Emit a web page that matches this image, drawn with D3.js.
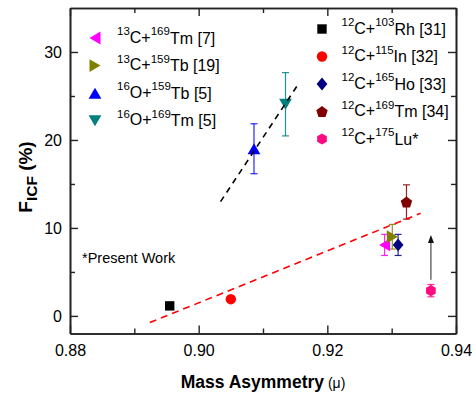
<!DOCTYPE html>
<html><head><meta charset="utf-8">
<script src="https://cdn.jsdelivr.net/npm/d3@7"></script>
<style>body{margin:0;background:#fff} svg{display:block} text{font-family:"Liberation Sans",Arial,sans-serif;fill:#000}</style>
</head><body><svg id="c" width="476" height="397"></svg>
<script>
// ---- data ----
const reactions = [
  ["13","C+","169","Tm [7]"],
  ["13","C+","159","Tb [19]"],
  ["16","O+","159","Tb [5]"],
  ["16","O+","169","Tm [5]"],
  ["12","C+","103","Rh [31]"],
  ["12","C+","115","In [32]"],
  ["12","C+","165","Ho [33]"],
  ["12","C+","169","Tm [34]"],
  ["12","C+","175","Lu*"]
];
const massAsymmetry = [0.9289, 0.9301, 0.9086, 0.9135, 0.8955, 0.9050, 0.9310, 0.9323, 0.9361];
const fICF =          [8.07,   9.0,    19.0,   24.06,  1.14,   1.9,    8.07,   12.95,  2.87];
const fICFErr =       [1.2,    1.4,    2.84,   3.6,    0,      0,      1.2,    1.95,   0.7];
const markerShapes = ["left","right","up","down","square","circle","diamond","pentagon","hexagon"];
const markerColors = ["#ff00ff","#808000","#0000ff","#008080","#000000","#ff0000","#000080","#800000","#ff0a80"];
const legendLeftIdx = [0,1,2,3];
const legendRightIdx = [4,5,6,7,8];
const xMajorTicks = [0.88, 0.90, 0.92, 0.94];
const xMinorTicks = [0.89, 0.91, 0.93];
const yMajorTicks = [0, 10, 20, 30];
const yMinorTicks = [5, 15, 25];
const redFitX = [0.8924, 0.9345];
const redFitY = [-0.76, 11.67];
const blackFitX = [0.9034, 0.9153];
const blackFitY = [12.99, 26.14];
const arrowX = [0.9361, 0.9361];
const arrowY = [4.1, 9.2];

// ---- layout ----
const L = 70, R = 456, T = 8, B = 333.5;
const svg = d3.select("#c");
const x = d3.scaleLinear().domain([0.88, 0.94]).range([L, R]);
const y = d3.scaleLinear().domain([-2, 35]).range([B, T]);

function shapePath(s) {
  const p = d3.path();
  if (s === "up") { p.moveTo(0,-5.5); p.lineTo(6.4,5.5); p.lineTo(-6.4,5.5); p.closePath(); }
  else if (s === "down") { p.moveTo(0,5.5); p.lineTo(6.4,-5.5); p.lineTo(-6.4,-5.5); p.closePath(); }
  else if (s === "left") { p.moveTo(-5.5,0); p.lineTo(5.5,-6.4); p.lineTo(5.5,6.4); p.closePath(); }
  else if (s === "right") { p.moveTo(5.5,0); p.lineTo(-5.5,-6.4); p.lineTo(-5.5,6.4); p.closePath(); }
  else if (s === "square") { p.rect(-4.7,-4.7,9.4,9.4); }
  else if (s === "circle") { p.arc(0,0,5.2,0,2*Math.PI); }
  else if (s === "diamond") { p.moveTo(0,-6.4); p.lineTo(5.4,0); p.lineTo(0,6.4); p.lineTo(-5.4,0); p.closePath(); }
  else if (s === "pentagon") {
    for (let i=0;i<5;i++){ const a=-Math.PI/2+i*2*Math.PI/5; const px=6*Math.cos(a), py=6*Math.sin(a)+0.6; i?p.lineTo(px,py):p.moveTo(px,py);} p.closePath();
  } else if (s === "hexagon") {
    for (let i=0;i<6;i++){ const a=-Math.PI/2+i*Math.PI/3; const px=5.6*Math.cos(a), py=5.6*Math.sin(a); i?p.lineTo(px,py):p.moveTo(px,py);} p.closePath();
  }
  return p.toString();
}

// ---- axes (inward ticks) ----
const axisColor = "#222";
function styleAxis(g){ g.selectAll("path.domain").attr("stroke",axisColor).attr("stroke-width",1.6);
  g.selectAll(".tick line").attr("stroke",axisColor).attr("stroke-width",1.4);
  g.selectAll(".tick text").attr("font-size",16).attr("font-family","Liberation Sans, Arial, sans-serif").attr("fill","#000"); }

svg.append("g").attr("transform",`translate(0,${B})`)
  .call(d3.axisBottom(x).tickValues(xMajorTicks).tickSize(-8).tickSizeOuter(0).tickPadding(11).tickFormat(d3.format(".2f"))).call(styleAxis);
svg.append("g").attr("transform",`translate(0,${B})`)
  .call(d3.axisBottom(x).tickValues(xMinorTicks).tickSize(-5).tickSizeOuter(0).tickFormat("")).call(styleAxis);
svg.append("g").attr("transform",`translate(0,${T})`)
  .call(d3.axisTop(x).tickValues(xMajorTicks).tickSize(-8).tickSizeOuter(0).tickFormat("")).call(styleAxis);
svg.append("g").attr("transform",`translate(0,${T})`)
  .call(d3.axisTop(x).tickValues(xMinorTicks).tickSize(-5).tickSizeOuter(0).tickFormat("")).call(styleAxis);
svg.append("g").attr("transform",`translate(${L},0)`)
  .call(d3.axisLeft(y).tickValues(yMajorTicks).tickSize(-8).tickSizeOuter(0).tickPadding(8)).call(styleAxis);
svg.append("g").attr("transform",`translate(${L},0)`)
  .call(d3.axisLeft(y).tickValues(yMinorTicks).tickSize(-5).tickSizeOuter(0).tickFormat("")).call(styleAxis);
svg.append("g").attr("transform",`translate(${R},0)`)
  .call(d3.axisRight(y).tickValues(yMajorTicks).tickSize(-8).tickSizeOuter(0).tickFormat("")).call(styleAxis);
svg.append("g").attr("transform",`translate(${R},0)`)
  .call(d3.axisRight(y).tickValues(yMinorTicks).tickSize(-5).tickSizeOuter(0).tickFormat("")).call(styleAxis);

// ---- axis titles ----
const xt = svg.append("text").attr("x",263).attr("y",388).attr("text-anchor","middle");
xt.append("tspan").attr("font-size",17.5).attr("font-weight","bold").text("Mass Asymmetry");
xt.append("tspan").attr("font-size",14).text(" (\u03bc)");

const yt = svg.append("text").attr("transform","translate(32,177) rotate(-90)").attr("text-anchor","middle").attr("font-weight","bold");
yt.append("tspan").attr("font-size",19).text("F");
yt.append("tspan").attr("font-size",15.5).attr("dy",4.5).text("ICF");
yt.append("tspan").attr("font-size",19).attr("dy",-4.5).text(" (%)");

// ---- error bars ----
const eb = svg.append("g");
massAsymmetry.forEach((mx,i)=>{
  if (!fICFErr[i]) return;
  const cx = x(mx), y1 = y(fICF[i]-fICFErr[i]), y2 = y(fICF[i]+fICFErr[i]);
  const c = markerColors[i];
  eb.append("line").attr("x1",cx).attr("x2",cx).attr("y1",y1).attr("y2",y2).attr("stroke",c).attr("stroke-width",1.2).attr("opacity",0.85);
  [y1,y2].forEach(yy=>eb.append("line").attr("x1",cx-3.5).attr("x2",cx+3.5).attr("y1",yy).attr("y2",yy).attr("stroke",c).attr("stroke-width",1.2).attr("opacity",0.85));
});

// ---- markers ----
svg.append("g").selectAll("path").data(massAsymmetry).join("path")
  .attr("transform",(d,i)=>`translate(${x(d)},${y(fICF[i])})`)
  .attr("d",(d,i)=>shapePath(markerShapes[i]))
  .attr("fill",(d,i)=>markerColors[i]);

// ---- fit lines ----
const line = d3.line().x(d=>x(d[0])).y(d=>y(d[1]));
svg.append("path").attr("d",line(d3.zip(redFitX,redFitY))).attr("fill","none").attr("stroke","#ff0000").attr("stroke-width",1.6).attr("stroke-dasharray","7,5");
svg.append("path").attr("d",line(d3.zip(blackFitX,blackFitY))).attr("fill","none").attr("stroke","#000").attr("stroke-width",1.6).attr("stroke-dasharray","6,5");

// ---- arrow ----
const ax = x(arrowX[0]), ay1 = y(arrowY[0]), ay2 = y(arrowY[1]);
svg.append("line").attr("x1",ax).attr("x2",ax).attr("y1",ay1).attr("y2",ay2+6).attr("stroke","#555").attr("stroke-width",1.3);
svg.append("path").attr("d",`M${ax},${ay2} L${ax+3},${ay2+8} L${ax-3},${ay2+8} Z`).attr("fill","#111");

// ---- legends ----
function legendEntry(idx, mx, tx, base){
  svg.append("path").attr("transform",`translate(${mx},${base-4.5})`).attr("d",shapePath(markerShapes[idx])).attr("fill",markerColors[idx]);
  const parts = reactions[idx];
  const t = svg.append("text").attr("x",tx).attr("y",base);
  t.append("tspan").attr("font-size",11.5).attr("dy",-7.5).text(parts[0]);
  t.append("tspan").attr("font-size",16).attr("dy",7.5).text(parts[1]);
  t.append("tspan").attr("font-size",11.5).attr("dy",-7.5).text(parts[2]);
  t.append("tspan").attr("font-size",16).attr("dy",8.5).text(parts[3]);
}
legendLeftIdx.forEach((idx,k)=>legendEntry(idx, 95, 117, 42.5 + k*27.6));
legendRightIdx.forEach((idx,k)=>legendEntry(idx, 322, 341.5, 33.5 + k*27.5));

svg.append("text").attr("x",82).attr("y",262.5).attr("font-size",14.5).text("*Present Work");
</script></body></html>
